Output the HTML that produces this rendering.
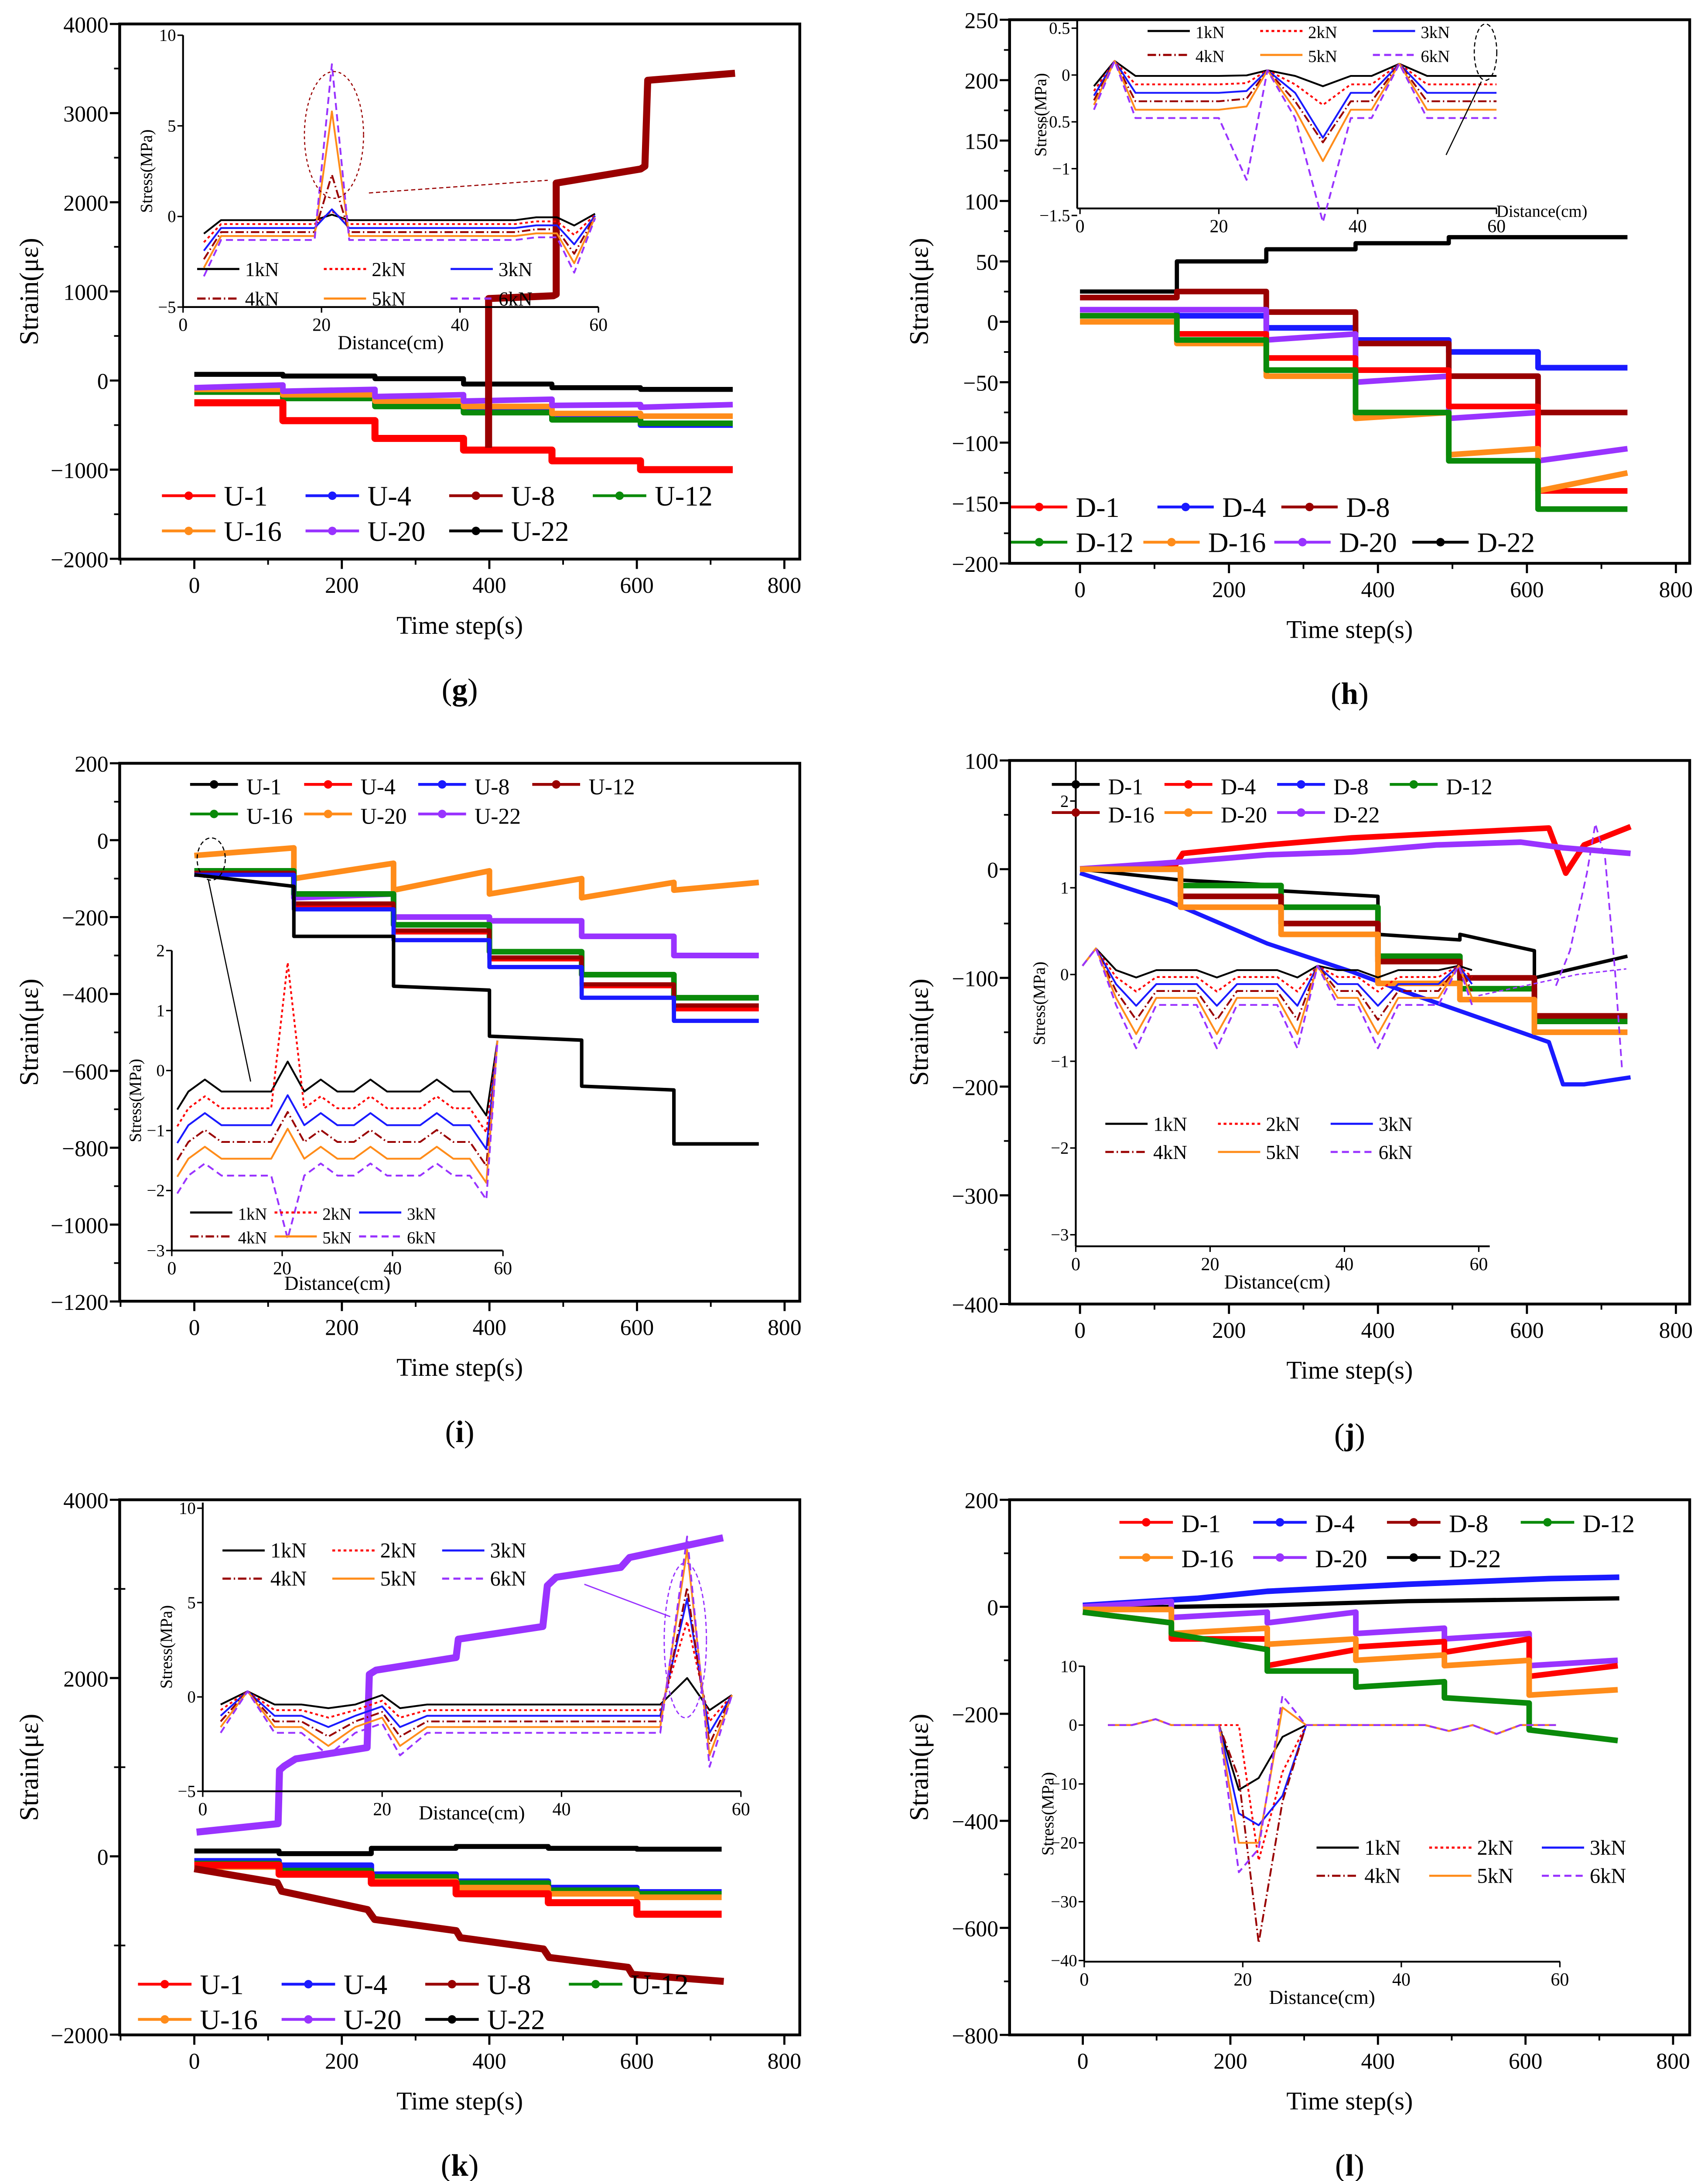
<!DOCTYPE html>
<html><head><meta charset="utf-8"><style>
html,body{margin:0;padding:0;background:#fff;width:3916px;height:5048px;overflow:hidden;}
svg{display:block;}
text{font-family:"Liberation Serif",serif;fill:#000;}
</style></head><body>
<svg id="s" width="3916" height="5048" viewBox="0 0 1213 1563.6" xmlns="http://www.w3.org/2000/svg">
<rect width="1213" height="1564" fill="#fff"/>
<g id="g"></g>
</svg>
<script>
var G=document.getElementById('g'),out='';
function add(s){out+=s;}
function T(x,y,s,sz,anc,extra){add('<text x="'+x+'" y="'+y+'" font-size="'+sz+'" text-anchor="'+(anc||'middle')+'" '+(extra||'')+'>'+s+'</text>');}
function line(x1,y1,x2,y2,w,c,da){add('<line x1="'+x1+'" y1="'+y1+'" x2="'+x2+'" y2="'+y2+'" stroke="'+(c||'#000')+'" stroke-width="'+(w||1)+'"'+(da?' stroke-dasharray="'+da+'"':'')+'/>');}
function poly(pts,c,w,da){add('<polyline fill="none" stroke="'+c+'" stroke-width="'+w+'" stroke-linejoin="round"'+(da?' stroke-dasharray="'+da+'"':'')+' points="'+pts.map(function(p){return p[0].toFixed(1)+','+p[1].toFixed(1)}).join(' ')+'"/>');}
var C={r:'#ff0000',b:'#1a1aff',d:'#990000',g:'#0a8a0a',o:'#ff8c1a',p:'#9933ff',k:'#000'};
function panel(P){
 var L=P.L,R=P.R,T0=P.T,B=P.B;
 add('<rect x="'+L+'" y="'+T0+'" width="'+(R-L)+'" height="'+(B-T0)+'" fill="none" stroke="#000" stroke-width="2"/>');
 P.yt.forEach(function(v,i){var y=P.py(v);line(L-7,y,L,y,1.5);T(L-8,y+6,v<0?'\u2212'+(-v):v,16,'end');
   if(i<P.yt.length-1){var y2=P.py((v+P.yt[i+1])/2);line(L-4,y2,L,y2,1.2);}});
 [0,200,400,600,800].forEach(function(v){var x=P.px(v);line(x,B,x,B+7,1.5);T(x,B+24,v,16);});
 [-100,100,300,500,700].forEach(function(v){var x=P.px(v);if(x>L)line(x,B,x,B+4,1.2);});
 T((L+R)/2,B+53,'Time step(s)',18);
 T(L-58,(T0+B)/2,'Strain(\u03bc\u03b5)',19,'middle','transform="rotate(-90 '+(L-58)+' '+((T0+B)/2)+')"');
 T((L+R)/2,B+100,'(<tspan font-weight="bold">'+P.lab+'</tspan>)',22);
}
function steps(P,vals,times,c,w,slope){
 var pts=[],n=vals.length;
 for(var i=0;i<n;i++){var t0=times[i],t1=times[i+1];var v=vals[i];var s=(slope&&slope[i])||0;
  pts.push([P.px(t0),P.py(v)]);pts.push([P.px(t1),P.py(v+s)]);}
 poly(pts,c,w||4);
}
function litem(xx,yy,name,c,sz,ll){line(xx,yy,xx+ll,yy,2,c);add('<circle cx="'+(xx+ll/2)+'" cy="'+yy+'" r="3" fill="'+c+'"/>');T(xx+ll+6,yy+7,name,sz,'start');}
function legend(x,y,items,dx,dy,sz,ll){
 items.forEach(function(it,i){var col=i%4,row=Math.floor(i/4);litem(x+col*dx,y+row*dy,it[0],it[1],sz||20,ll||40);});
}
function inset(I){
 line(I.L,I.T,I.L,I.B,1.3);line(I.L,I.B,I.R,I.B,1.3);
 I.yt.forEach(function(v){var y=I.py(v);line(I.L-4,y,I.L,y,1);T(I.L-5,y+4,(v<0?'\u2212'+(-v):v),12,'end');});
 [0,20,40,60].forEach(function(v){var x=I.px(v);line(x,I.B,x,I.B+4,1);T(x,I.B+17,v,13);});
 if(!I.nodl)T(I.px(30)+(I.dxl||0),I.B+(I.dyl||30),'Distance(cm)',14);
 var cy=(I.T+I.B)/2;T(I.L-(I.ylo||22),cy,'Stress(MPa)',12,'middle','transform="rotate(-90 '+(I.L-(I.ylo||22))+' '+cy+')"');
}
function icurves(I,fn){
 var cs=[['#000',null],['#ff0000','2,2'],['#1a1aff',null],['#990000','6,2,1,2'],['#ff8c1a',null],['#9933ff','5,3']];
 for(var k=1;k<=6;k++){var pts=[];for(var i=0;i<fn.xs.length;i++){pts.push([I.px(fn.xs[i]),I.py(fn.f(k,fn.xs[i],i))]);}poly(pts,cs[k-1][0],1.3,cs[k-1][1]);}
}
function ilegend(x,y,dx,dy,sz){
 var it=[['1kN','#000',null],['2kN','#ff0000','2,2'],['3kN','#1a1aff',null],['4kN','#990000','6,2,1,2'],['5kN','#ff8c1a',null],['6kN','#9933ff','5,3']];
 it.forEach(function(e,i){var xx=x+(i%3)*dx,yy=y+Math.floor(i/3)*dy;line(xx,yy,xx+30,yy,1.5,e[1],e[2]);T(xx+34,yy+5,e[0],sz||14,'start');});
}
function mk(L,R,T0,B,x0,xs,yv,ypx,ys,yt,lab){return {L:L,R:R,T:T0,B:B,lab:lab,yt:yt,px:function(v){return x0+v*xs},py:function(v){return ypx+(yv-v)*ys}};}
function mki(L,R,T0,B,x0,xs,yv,ypx,ys,yt){return {L:L,R:R,T:T0,B:B,yt:yt,px:function(v){return x0+v*xs},py:function(v){return ypx+(yv-v)*ys}};}
var TS=[0,120,245,365,485,605,730];

// ===== (g)
var g=mk(85,568,17,397,138,0.5238,4000,17,0.0633,[4000,3000,2000,1000,0,-1000,-2000],'g');
panel(g);
steps(g,[70,50,20,-40,-80,-100],TS,C.k,3.5);
steps(g,[-120,-170,-280,-350,-420,-500],TS,C.b,4);
steps(g,[-130,-200,-290,-360,-440,-480],TS,C.g,4);
steps(g,[-100,-160,-230,-290,-370,-400],TS,C.o,4);
steps(g,[-80,-120,-180,-230,-280,-300],TS,C.p,4,[30,20,20,20,10,30]);
steps(g,[-250,-450,-650,-780,-900,-1000],TS,C.r,5);
poly([[347,318],[347,212],[393,210],[395,209],[395,130],[455,120],[458,118],[460,57],[522,52]],C.d,5);
var gi=mki(130,425,25,218,130,4.917,10,25,12.87,[10,5,0,-5]);inset(gi);
icurves(gi,{xs:[3,5.5,8,11,14,17,19,21.5,24,27,30,33,36,39,42,45,48,51,54,56.5,59.5],f:function(k,x,i){
 var pk=[0.1,0.3,0.4,2.3,5.8,8.4];if(Math.abs(x-21.5)<0.1)return pk[k-1];
 var b=-0.2-0.22*(k-1);if(x<4)b-=0.5+0.25*k;if(x>=56&&x<57)b-=0.3*k;if(x>59)return 0.2-0.1*k/2;if(x>=50&&x<56)b+=0.15;return b;}});
ilegend(140,191,90,21,14);
add('<ellipse cx="'+gi.px(21.8)+'" cy="'+gi.py(4.5)+'" rx="21" ry="45" fill="none" stroke="#990000" stroke-width="0.8" stroke-dasharray="2,2"/>');
line(262,137,389,128,0.8,'#990000','3,2');
legend(115,352,[['U-1',C.r],['U-4',C.b],['U-8',C.d],['U-12',C.g],['U-16',C.o],['U-20',C.p],['U-22',C.k]],102,25,20,38);

// ===== (h)
var h=mk(717,1200,14,400,767,0.529,250,14,0.858,[250,200,150,100,50,0,-50,-100,-150,-200],'h');
panel(h);
var TH=[0,130,250,370,495,615,735];
steps(h,[25,50,60,65,70,70],TH,C.k,3);
steps(h,[10,5,-5,-15,-25,-38],TH,C.b,4);
steps(h,[20,25,8,-18,-45,-75],TH,C.d,4);
steps(h,[10,10,-15,-50,-80,-115],TH,C.p,4,[0,0,5,5,5,10]);
steps(h,[5,-10,-30,-40,-70,-140],TH,C.r,4);
steps(h,[0,-18,-45,-80,-110,-140],TH,C.o,4,[0,0,0,5,5,15]);
steps(h,[5,-15,-40,-75,-115,-155],TH,C.g,4);
var hi=mki(765,1063,15,148,767,4.93,0.5,20,66.5,[0.5,0,-0.5,-1.0,-1.5]);hi.nodl=true;inset(hi);
icurves(hi,{xs:[2,5,8,12,16,20,24,27,31,35,39,42,46,50,54,58,60],f:function(k,x,i){
 var b=0.03-0.05*(k-1);if(x==5)return 0.15;if(x==46)return 0.12;
 if(x==24)return b-0.2*k/6-(k==6?0.7:0);if(x==35)return b-(k==6?1.35:k==3?0.6:0.15*k);if(x==2)return b-0.15;if(x==27)return 0.05;return b-0.04*k;}});
ilegend(815,22,80,17,12);
T(1095,154,'Distance(cm)',12);
add('<ellipse cx="1055" cy="37" rx="8" ry="20" fill="none" stroke="#000" stroke-width="0.8" stroke-dasharray="3,2"/>');
line(1052,58,1027,110,0.8);
litem(718,360,'D-1',C.r,20,40);litem(822,360,'D-4',C.b,20,40);litem(910,360,'D-8',C.d,20,40);
litem(718,385,'D-12',C.g,20,40);litem(812,385,'D-16',C.o,20,40);litem(905,385,'D-20',C.p,20,40);litem(1003,385,'D-22',C.k,20,40);

// ===== (i)
var ii=mk(85,568,542,924,138,0.524,200,542,0.273,[200,0,-200,-400,-600,-800,-1000,-1200],'i');
panel(ii);
var TI=[0,135,270,400,525,650,765];
steps(ii,[-40,-100,-130,-140,-150,-130],TI,C.o,4,[20,40,50,40,40,20]);
steps(ii,[-80,-150,-200,-210,-250,-300],TI,C.p,4,[0,10,0,0,0,0]);
steps(ii,[-80,-140,-220,-290,-350,-410],TI,C.g,4);
steps(ii,[-85,-170,-240,-310,-380,-440],TI,C.r,3);
steps(ii,[-85,-165,-235,-305,-375,-430],TI,C.d,3);
steps(ii,[-90,-180,-260,-330,-410,-470],TI,C.b,3);
steps(ii,[-90,-250,-380,-510,-640,-790],TI,C.k,2.5,[-30,0,-10,-10,-10,0]);
var iin=mki(122,357,675,888,122,3.92,2,675,42.6,[2,1,0,-1,-2,-3]);iin.dyl=28;inset(iin);
icurves(iin,{xs:[1,3,6,9,12,15,18,21,24,27,30,33,36,39,42,45,48,51,54,57,59],f:function(k,x){
 var b=-0.35-0.28*(k-1);if(x==1)b-=0.3;if(x==21){if(k==2)return 1.8;if(k==6)return -2.8;b+=0.5;}
 if(x==57)b-=0.4;if(x==59)return 0.5;if(x==6||x==27||x==36||x==48)b+=0.2;return b;}});
ilegend(135,861,60,17,12);
add('<ellipse cx="150" cy="610" rx="10" ry="15" fill="none" stroke="#000" stroke-width="0.8" stroke-dasharray="3,2"/>');
line(148,625,178,768,0.8);
legend(135,557,[['U-1',C.k],['U-4',C.r],['U-8',C.b],['U-12',C.d],['U-16',C.g],['U-20',C.o],['U-22',C.p]],81,21,16,34);

// ===== (j)
var j=mk(717,1200,540,926,767,0.529,100,540,0.772,[100,0,-100,-200,-300,-400],'j');
panel(j);
var TJ=[0,135,270,400,510,610,735];
poly([[767,617],[835,614],[840,606],[900,600],[960,595],[1020,592],[1100,588],[1112,620],[1125,600],[1158,587]],C.r,4);
poly([[767,617],[840,612],[900,607],[960,605],[1020,600],[1080,598],[1110,602],[1158,606]],C.p,4);
poly([[767,620],[830,640],[900,670],[960,690],[1000,705],[1100,740],[1110,770],[1125,770],[1158,765]],C.b,3);
steps(j,[0,-10,-20,-60,-60,-100,-80],TJ,C.k,2.5,[-10,-5,-5,-5,-15,20]);
steps(j,[0,-15,-35,-80,-110,-140],TJ,C.g,4);
steps(j,[0,-25,-50,-85,-100,-135],TJ,C.d,4);
steps(j,[0,-35,-60,-105,-120,-150],TJ,C.o,4);
var ji=mki(764,1058,540,885,764,4.77,0,692,61.6,[2,1,0,-1,-2,-3]);inset(ji);
icurves(ji,{xs:[1,3,6,9,12,15,18,21,24,27,30,33,36,39,42,45,48,51,54,57,59],f:function(k,x){
 var b=0.05-0.08*(k-1);if(x==1)return 0.1;if(x==9||x==21||x==33||x==45)b-=0.25*k/3;if(x==3)return 0.3;if(x==36||x==57)return 0.1;return b;}});
ilegend(785,798,80,20,14);
poly([[1050,707],[1120,692],[1155,688]],'#9933ff',1,'3,2');
poly([[1105,700],[1115,675],[1127,620],[1133,585],[1140,610],[1147,690],[1152,760]],'#9933ff',1.2,'5,3');
legend(747,557,[['D-1',C.k],['D-4',C.r],['D-8',C.b],['D-12',C.g],['D-16',C.d],['D-20',C.o],['D-22',C.p]],80,20,16,34);

// ===== (k)
var k=mk(85,568,1065,1445,138,0.5238,4000,1065,0.0633,[4000,2000,0,-2000],'k');
panel(k);
[3000,1000,-1000].forEach(function(v){line(85,k.py(v),89,k.py(v),1.2);});
var TK=[0,115,240,355,480,600,715];
steps(k,[60,30,90,110,90,80],TK,C.k,3.5);
steps(k,[-50,-100,-200,-280,-350,-400],TK,C.b,4);
steps(k,[-80,-160,-230,-300,-380,-420],TK,C.g,4);
steps(k,[-120,-200,-280,-350,-420,-460],TK,C.o,4);
steps(k,[-100,-200,-300,-420,-520,-650],TK,C.r,5);
poly([[138,1327],[197,1337],[200,1343],[261,1356],[266,1363],[324,1371],[327,1376],[386,1384],[390,1390],[446,1397],[449,1402],[514,1407]],C.d,5);
poly([[139.6,1301],[197.5,1295],[198.5,1257],[202,1254],[210,1249],[260.7,1241],[262.3,1189],[267,1186],[323.9,1177],[325.5,1164],[385.5,1155],[388.7,1126],[395,1120],[440.9,1113],[447.1,1106],[513.5,1092]],C.p,5);
var ki=mki(144,526,1067,1272,144,6.37,10,1071,13.4,[10,5,0,-5]);ki.dyl=20;inset(ki);
icurves(ki,{xs:[2,5,8,11,14,17,20,22,25,28,31,34,37,40,43,46,49,51,54,56.5,59],f:function(k,x){
 var pk=[1,4,5.2,5.8,7.8,8.5];if(x==54)return pk[k-1];var b=-0.4-0.3*(k-1);
 if(x==5)return 0.3;if(x==20)b+=0.5;if(x==22||x==14)b-=0.4*k/2;if(x==56.5)b-=0.3*k;if(x==59)return 0.1;return b;}});
ilegend(158,1101,78,20,15);
add('<ellipse cx="'+ki.px(53.8)+'" cy="'+ki.py(3)+'" rx="15" ry="55" fill="none" stroke="#9933ff" stroke-width="0.9" stroke-dasharray="3,2"/>');
line(476,1148,415,1125,0.9,'#9933ff');
legend(98,1409,[['U-1',C.r],['U-4',C.b],['U-8',C.d],['U-12',C.g],['U-16',C.o],['U-20',C.p],['U-22',C.k]],102,25,20,38);

// ===== (l)
var l=mk(717,1200,1065,1445,769,0.524,200,1065,0.38,[200,0,-200,-400,-600,-800],'l');
panel(l);
var TL=[0,120,250,370,490,605,725];
poly([[769,1140],[850,1135],[900,1130],[1000,1125],[1100,1121],[1150,1120]],C.b,4);
poly([[769,1142],[900,1140],[1000,1137],[1150,1135]],C.k,3);
steps(l,[0,-20,-30,-50,-60,-110],TL,C.p,4,[10,10,20,10,10,10]);
steps(l,[-10,-60,-110,-75,-85,-130],TL,C.r,4,[-20,0,30,10,25,20]);
steps(l,[-5,-50,-70,-100,-110,-165],TL,C.o,4,[0,10,10,10,10,10]);
steps(l,[-10,-50,-120,-150,-170,-230],TL,C.g,4,[-20,-30,0,10,-10,-20]);
var li=mki(770,1108,1183,1393,770,5.63,0,1225,4.18,[10,0,-10,-20,-30,-40]);inset(li);
icurves(li,{xs:[3,6,9,11,14,17,19.5,22,25,28,31,34,37,40,43,46,49,52,55,57,59.5],f:function(k,x){
 if(x==19.5)return [-11,0,-15,-9,-20,-25][k-1];if(x==22)return [-9,-23,-17,-37,-20,-21][k-1];
 if(x==25)return [-2,-8,-12,-13,3,5][k-1];if(x==9)return 1;if(x==46)return -1;if(x==52)return -1.5;return 0;}});
ilegend(935,1312,80,20,15);
legend(795,1081,[['D-1',C.r],['D-4',C.b],['D-8',C.d],['D-12',C.g],['D-16',C.o],['D-20',C.p],['D-22',C.k]],95,25,18,38);

G.innerHTML=out;
</script>
</body></html>
